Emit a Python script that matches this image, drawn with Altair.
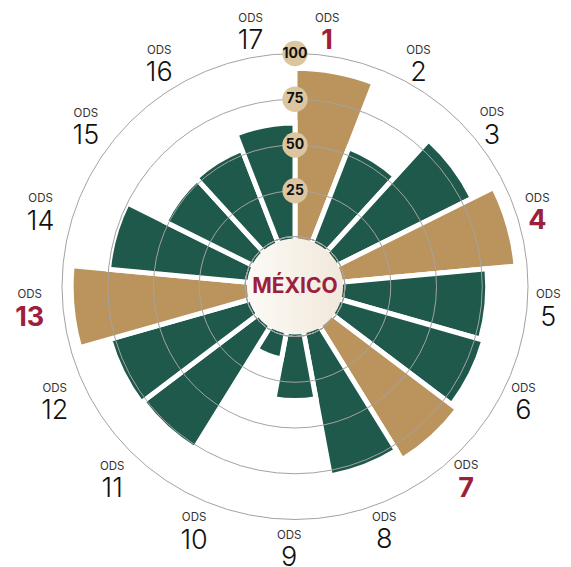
import math
import altair as alt
import pandas as pd

# ---- data ----
ods = list(range(1, 18))
values = [92, 54, 81, 94, 78, 80, 84, 78, 35, 13, 77, 78, 95, 75, 52, 53, 62]
highlight = [1, 4, 7, 13]
grid_values = [25, 50, 75, 100]
center_label = ["MÉXICO"]

GREEN = "#1f594b"
GOLD = "#ba945c"
CRIMSON = "#9d1e3e"
TAN = "#dcc6a0"
FONT = "Inter"

W, H = 534, 557
R0, R100 = 50, 233
TAU = 2 * math.pi

df = pd.DataFrame({
    "ods": ods,
    "value": values,
    "destacado": [o in highlight for o in ods],
})
grid_df = pd.DataFrame({"g": grid_values})
tick_df = pd.DataFrame({"t": grid_values})

theta_scale = alt.Scale(domain=[0, 17], range=[0, TAU])
# label ring is laid out slightly differently from the bars
label_theta_scale = alt.Scale(domain=[0, 17], range=[-0.040, 6.322])
radius_scale = alt.Scale(type="linear", domain=[0, 100], range=[R0, R100], zero=False)
yscale = alt.Scale(type="linear", domain=[0, 100], range=[H / 2 - R0, H / 2 - R100], zero=False)

bars = alt.Chart(df).transform_calculate(
    start="datum.ods - 1", end="datum.ods"
).mark_arc(stroke="white", strokeWidth=5).encode(
    theta=alt.Theta("start:Q", scale=theta_scale, stack=None),
    theta2="end:Q",
    radius=alt.Radius("value:Q", scale=radius_scale, stack=None),
    radius2=alt.value(0),
    color=alt.Color("destacado:N", scale=alt.Scale(domain=[False, True], range=[GREEN, GOLD]), legend=None),
)

grid = alt.Chart(grid_df).mark_arc(
    fill="white", fillOpacity=0, stroke="#a3a3a3", strokeWidth=1
).encode(
    theta=alt.value(0),
    theta2=alt.value(TAU),
    radius=alt.Radius("g:Q", scale=radius_scale, stack=None),
)

gradient = alt.LinearGradient(
    gradient="linear",
    stops=[alt.GradientStop(color="#fcfaf6", offset=0), alt.GradientStop(color="#f1e8db", offset=1)],
    x1=0, x2=1, y1=0, y2=0,
)
center = alt.Chart(pd.DataFrame({"label": center_label})).mark_arc(fill=gradient).encode(
    theta=alt.value(0),
    theta2=alt.value(TAU),
    radius=alt.value(48),
)

center_text = alt.Chart(pd.DataFrame({"label": center_label})).mark_text(
    font=FONT, fontSize=21, fontWeight="bold", color=CRIMSON, baseline="middle", align="center"
).encode(x=alt.value(W / 2), y=alt.value(H / 2), text="label:N")

tick_circles = alt.Chart(tick_df).mark_circle(size=640, color=TAN, opacity=1).encode(
    x=alt.value(W / 2),
    y=alt.Y("t:Q", scale=yscale, axis=None),
)
tick_text = alt.Chart(tick_df).mark_text(
    font=FONT, fontSize=14, fontWeight="bold", color="#111111", baseline="middle", align="center"
).encode(
    x=alt.value(W / 2),
    y=alt.Y("t:Q", scale=yscale, axis=None),
    text="t:Q",
)

polar_layers = alt.layer(bars, grid, center, center_text, tick_circles, tick_text)

lab_base = alt.Chart(df).transform_calculate(mid="datum.ods - 0.5")

ods_text = lab_base.mark_text(
    font=FONT, fontSize=11.5, color="#333333", dy=-10.5, dx=-6, baseline="middle", align="center"
).encode(
    theta=alt.Theta("mid:Q", scale=label_theta_scale, stack=None),
    radius=alt.value(260),
    text=alt.value("ODS"),
)

num_text = lab_base.transform_filter("!datum.destacado").mark_text(
    font=FONT, fontSize=27, fontWeight=300, color="#111111", dy=12, dx=-6, baseline="middle", align="center"
).encode(
    theta=alt.Theta("mid:Q", scale=label_theta_scale, stack=None),
    radius=alt.value(260),
    text="ods:N",
)

num_text_hl = lab_base.transform_filter("datum.destacado").mark_text(
    font=FONT, fontSize=27, fontWeight="bold", color=CRIMSON, dy=12, dx=-6, baseline="middle", align="center"
).encode(
    theta=alt.Theta("mid:Q", scale=label_theta_scale, stack=None),
    radius=alt.value(260),
    text="ods:N",
)

label_layers = alt.layer(ods_text, num_text, num_text_hl)

chart = alt.layer(polar_layers, label_layers).resolve_scale(theta="independent").properties(
    width=W, height=H,
    padding={"left": 20, "top": 0, "right": 0, "bottom": 2},
    autosize=alt.AutoSizeParams(type="none"),
    background="white",
).configure_view(stroke=None)

chart.save("out.html", embed_options={"renderer": "svg", "actions": False})
